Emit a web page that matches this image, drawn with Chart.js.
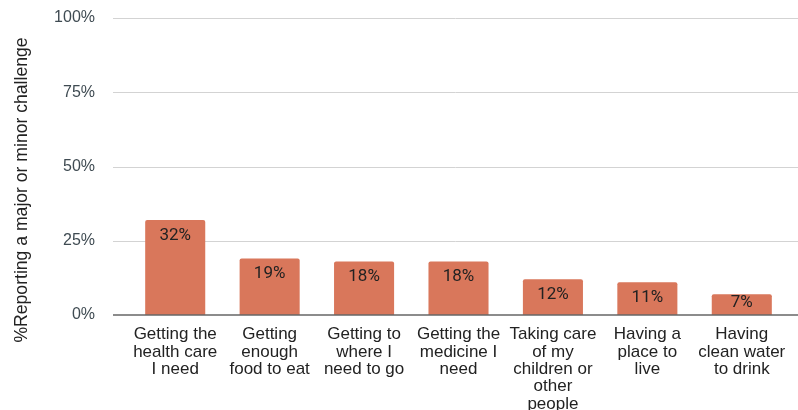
<!DOCTYPE html>
<html>
<head>
<meta charset="utf-8">
<script src="https://cdn.jsdelivr.net/npm/chart.js@4/dist/chart.umd.min.js"></script>
<style>
  html, body { margin: 0; padding: 0; background: #fff; }
  #wrap { width: 798px; height: 410px; }
</style>
</head>
<body>
<div id="wrap"><canvas id="c" width="798" height="410"></canvas></div>
<script>
// Share of respondents reporting each challenge
const categories = [
  ["Getting the", "health care", "I need"],
  ["Getting", "enough", "food to eat"],
  ["Getting to", "where I", "need to go"],
  ["Getting the", "medicine I", "need"],
  ["Taking care", "of my", "children or", "other", "people"],
  ["Having a", "place to", "live"],
  ["Having", "clean water", "to drink"]
];
const percentReporting = [32, 19, 18, 18, 12, 11, 7];
const yTickValues = [0, 25, 50, 75, 100];
const yAxisTitle = "%Reporting a major or minor challenge";

// Horizontal gridlines, spanning slightly past the plot area
const gridPlugin = {
  id: 'hGrid',
  beforeDatasetsDraw(chart) {
    const { ctx, scales: { y } } = chart;
    ctx.save();
    ctx.strokeStyle = '#d3d3d3';
    ctx.lineWidth = 1;
    yTickValues.forEach(v => {
      if (v === 0) return;
      const py = Math.round(y.getPixelForValue(v)) + 0.5;
      ctx.beginPath();
      ctx.moveTo(113, py);
      ctx.lineTo(798, py);
      ctx.stroke();
    });
    ctx.restore();
  },
  afterDatasetsDraw(chart) {
    const { ctx, scales: { y } } = chart;
    const py = y.getPixelForValue(0);
    ctx.save();
    ctx.strokeStyle = '#666666';
    ctx.lineWidth = 1.5;
    ctx.beginPath();
    ctx.moveTo(113, py);
    ctx.lineTo(798, py);
    ctx.stroke();
    ctx.restore();
  }
};

// Value labels inside the top of each bar
const valueLabelPlugin = {
  id: 'valueLabels',
  afterDatasetsDraw(chart) {
    const { ctx } = chart;
    const meta = chart.getDatasetMeta(0);
    ctx.save();
    ctx.font = '17px Roboto, "Liberation Sans", Arial, sans-serif';
    ctx.fillStyle = '#222222';
    ctx.textAlign = 'center';
    ctx.textBaseline = 'middle';
    meta.data.forEach((bar, i) => {
      const ly = Math.min(bar.y + 15.5, bar.base - 12);
      ctx.fillText(percentReporting[i] + '%', bar.x, ly);
    });
    ctx.restore();
  }
};

// Rotated y-axis title
const yTitlePlugin = {
  id: 'yTitle',
  afterDraw(chart) {
    const { ctx } = chart;
    ctx.save();
    ctx.translate(22, 190);
    ctx.rotate(-Math.PI / 2);
    ctx.font = '17.6px "Liberation Sans", Arial, sans-serif';
    ctx.fillStyle = '#222222';
    ctx.textAlign = 'center';
    ctx.textBaseline = 'middle';
    ctx.fillText(yAxisTitle, 0, 0);
    ctx.restore();
  }
};

new Chart(document.getElementById('c'), {
  type: 'bar',
  data: {
    labels: categories,
    datasets: [{
      data: percentReporting,
      backgroundColor: '#d9775b',
      borderWidth: 0,
      borderRadius: { topLeft: 2, topRight: 2, bottomLeft: 0, bottomRight: 0 },
      borderSkipped: 'start',
      barPercentage: 0.636,
      categoryPercentage: 1.0
    }]
  },
  options: {
    responsive: false,
    animation: false,
    devicePixelRatio: 1,
    layout: { padding: { top: 18, right: 9, left: 0, bottom: 0 } },
    plugins: {
      legend: { display: false },
      tooltip: { enabled: false },
      title: { display: false }
    },
    scales: {
      x: {
        grid: { display: false },
        border: { display: false },
        ticks: {
          color: '#222222',
          font: { family: '"Liberation Sans", Arial, sans-serif', size: 17, lineHeight: 1.02 },
          padding: 3,
          maxRotation: 0,
          autoSkip: false
        },
        afterFit(scale) {
          scale.height = 95;
          scale.paddingLeft = 0;
          scale.paddingRight = 0;
        }
      },
      y: {
        min: 0,
        max: 100,
        grid: { display: false },
        border: { display: false },
        afterBuildTicks(scale) {
          scale.ticks = yTickValues.map(v => ({ value: v }));
        },
        ticks: {
          color: '#3f4b52',
          font: { family: '"Liberation Sans", Arial, sans-serif', size: 16 },
          padding: 25,
          callback: v => v + '%'
        },
        afterFit(scale) {
          scale.width = 128;
          scale.paddingTop = 0;
          scale.paddingBottom = 0;
        }
      }
    }
  },
  plugins: [gridPlugin, valueLabelPlugin, yTitlePlugin]
});
</script>
</body>
</html>
